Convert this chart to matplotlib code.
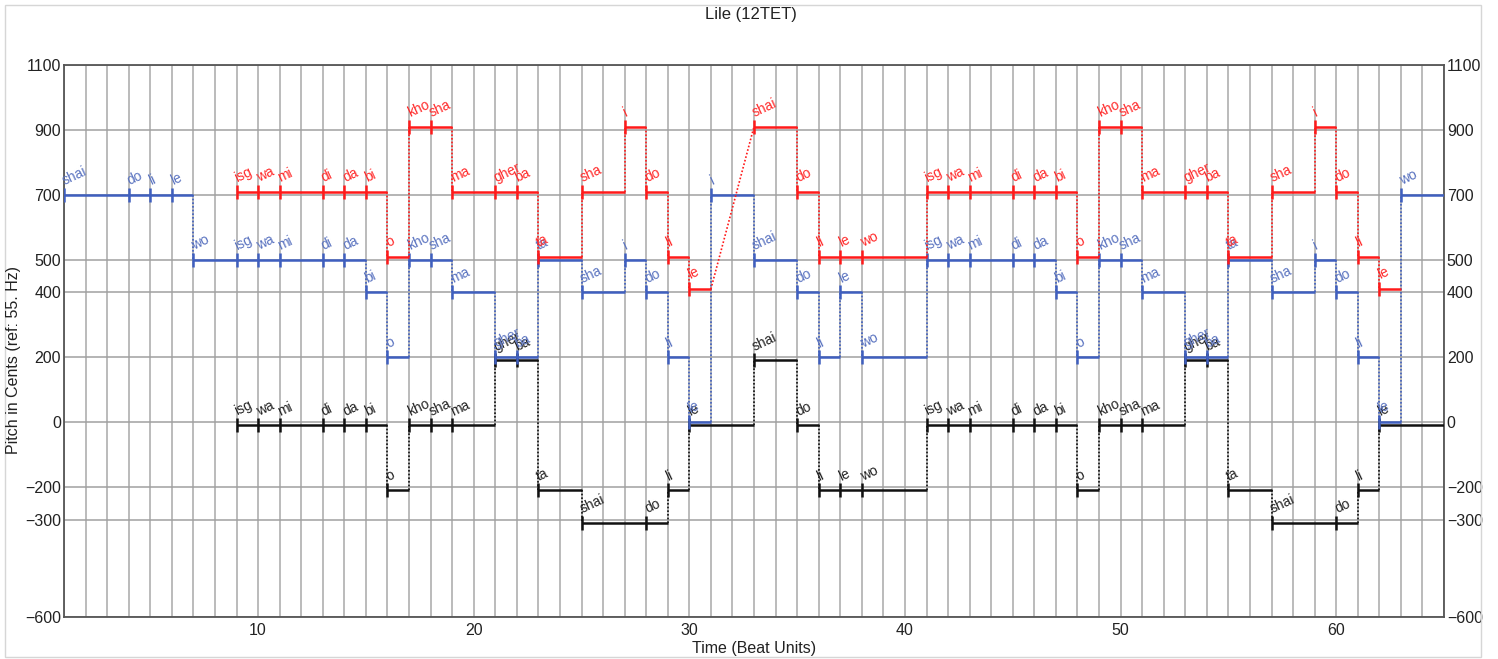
import matplotlib
matplotlib.use("Agg")
import matplotlib.pyplot as plt
from matplotlib.patches import Rectangle

plt.rcParams['font.family'] = ['Liberation Sans', 'DejaVu Sans']

# ---------------- data ----------------
title = "Lile (12TET)"
x_label = "Time (Beat Units)"
y_label = "Pitch in Cents (ref: 55. Hz)"
x_ticks = [10, 20, 30, 40, 50, 60]
y_ticks = [-600, -300, -200, 0, 200, 400, 500, 700, 900, 1100]

blue_onsets = [1, 4, 5, 6, 7, 9, 10, 11, 13, 14, 15, 16, 17, 18, 19, 21, 22, 23,
               25, 27, 28, 29, 30, 31, 33, 35, 36, 37, 38, 41, 42, 43, 45, 46, 47,
               48, 49, 50, 51, 53, 54, 55, 57, 59, 60, 61, 62, 63]
blue_syll = ["shai", "do", "li", "le", "wo", "isg", "wa", "mi", "di", "da", "bi", "o",
             "kho", "sha", "ma", "gher", "ba", "ta", "sha", "i", "do", "li", "le", "i",
             "shai", "do", "li", "le", "wo", "isg", "wa", "mi", "di", "da", "bi", "o",
             "kho", "sha", "ma", "gher", "ba", "ta", "sha", "i", "do", "li", "le", "wo"]
blue_cents = [700, 700, 700, 700, 500, 500, 500, 500, 500, 500, 400, 200,
              500, 500, 400, 200, 200, 500, 400, 500, 400, 200, 0, 700,
              500, 400, 200, 400, 200, 500, 500, 500, 500, 500, 400, 200,
              500, 500, 400, 200, 200, 500, 400, 500, 400, 200, 0, 700]
blue_end = 65

red_onsets = [9, 10, 11, 13, 14, 15, 16, 17, 18, 19, 21, 22, 23, 25, 27, 28, 29, 30,
              33, 35, 36, 37, 38, 41, 42, 43, 45, 46, 47, 48, 49, 50, 51, 53, 54, 55,
              57, 59, 60, 61, 62]
red_syll = ["isg", "wa", "mi", "di", "da", "bi", "o", "kho", "sha", "ma", "gher", "ba",
            "ta", "sha", "i", "do", "li", "le", "shai", "do", "li", "le", "wo",
            "isg", "wa", "mi", "di", "da", "bi", "o", "kho", "sha", "ma", "gher", "ba",
            "ta", "sha", "i", "do", "li", "le"]
red_cents = [710, 710, 710, 710, 710, 710, 510, 910, 910, 710, 710, 710, 510, 710,
             910, 710, 510, 410, 910, 710, 510, 510, 510, 710, 710, 710, 710, 710,
             710, 510, 910, 910, 710, 710, 710, 510, 710, 910, 710, 510, 410]
red_end = 63
red_rests = {30: 31}   # note starting at 30 ends at 31 (gap before 33)

black_onsets = [9, 10, 11, 13, 14, 15, 16, 17, 18, 19, 21, 22, 23, 25, 28, 29, 30,
                33, 35, 36, 37, 38, 41, 42, 43, 45, 46, 47, 48, 49, 50, 51, 53, 54,
                55, 57, 60, 61, 62]
black_syll = ["isg", "wa", "mi", "di", "da", "bi", "o", "kho", "sha", "ma", "gher", "ba",
              "ta", "shai", "do", "li", "le", "shai", "do", "li", "le", "wo",
              "isg", "wa", "mi", "di", "da", "bi", "o", "kho", "sha", "ma", "gher", "ba",
              "ta", "shai", "do", "li", "le"]
black_cents = [-10, -10, -10, -10, -10, -10, -210, -10, -10, -10, 190, 190, -210,
               -310, -310, -210, -10, 190, -10, -210, -210, -210, -10, -10, -10,
               -10, -10, -10, -210, -10, -10, -10, 190, 190, -210, -310, -310,
               -210, -10]
black_end = 65

# ---------------- figure ----------------
W, H = 1498, 659
fig = plt.figure(figsize=(W / 100, H / 100), dpi=100)
fig.patches.append(Rectangle((5 / W, 2 / H), (1481 - 5) / W, (654 - 2) / H,
                             transform=fig.transFigure, fill=False,
                             ec='#d6d6d6', lw=1.0))
ax = fig.add_axes([64 / W, 1 - 617 / H, (1444 - 64) / W, (617 - 65) / H])
ax.set_xlim(1, 65)
ax.set_ylim(-600, 1100)

ax.set_xticks(x_ticks)
ax.set_xticks(range(1, 66), minor=True)
ax.set_yticks(y_ticks)
ax.set_yticklabels([str(v).replace('-', '\u2212') for v in y_ticks])
ax.grid(True, which='both', axis='x', color='#a8a8a8', lw=1.1)
ax.grid(True, which='major', axis='y', color='#a0a0a0', lw=1.1)
ax.set_axisbelow(True)
ax.tick_params(which='both', length=0)
ax.tick_params(axis='y', labelsize=11.5, labelright=True, pad=2, colors='#222')
ax.tick_params(axis='x', labelsize=11.5, pad=4, colors='#222')
for s in ax.spines.values():
    s.set_color('#555555')
    s.set_linewidth(1.3)


def draw_series(onsets, cents, syll, end, color, tcolor, rests=None, z=3):
    rests = rests or {}
    ends = list(onsets[1:]) + [end]
    ends = [rests.get(o, e) for o, e in zip(onsets, ends)]
    for i, (o, e, v) in enumerate(zip(onsets, ends, cents)):
        ax.plot([o, e], [v, v], color=color, lw=1.8, solid_capstyle='butt', zorder=z)
        if i + 1 < len(onsets):
            no, nv = onsets[i + 1], cents[i + 1]
            if nv != v or no != e:
                ax.plot([e, no], [v, nv], color=color, lw=1.2,
                        ls=(0, (1, 1.2)), zorder=z)
    ax.plot(onsets, cents, ls='none', marker='|', ms=10, mew=1.8,
            color=color, zorder=z)
    for o, v, s in zip(onsets, cents, syll):
        ax.annotate(s, (o, v), xytext=(1.5, 5), textcoords='offset points',
                    rotation=25, rotation_mode='anchor', ha='left', va='bottom',
                    fontsize=10, color=tcolor, zorder=z + 1)


draw_series(black_onsets, black_cents, black_syll, black_end, '#111111', '#222222', z=3)
draw_series(blue_onsets, blue_cents, blue_syll, blue_end, '#3f5fbf', '#5a73c0', z=4)
draw_series(red_onsets, red_cents, red_syll, red_end, '#ff1a1a', '#ff2a2a',
            rests=red_rests, z=5)

fig.text(751 / W, 1 - 15 / H, title, ha='center', va='center', fontsize=12, color='#222')
fig.text(754 / W, 1 - 649 / H, x_label, ha='center', va='center', fontsize=11.5, color='#222')
fig.text(14 / W, 1 - 360 / H, y_label, ha='center', va='center', rotation=90,
         fontsize=11.5, color='#222')

fig.savefig('out.png', dpi=100)
